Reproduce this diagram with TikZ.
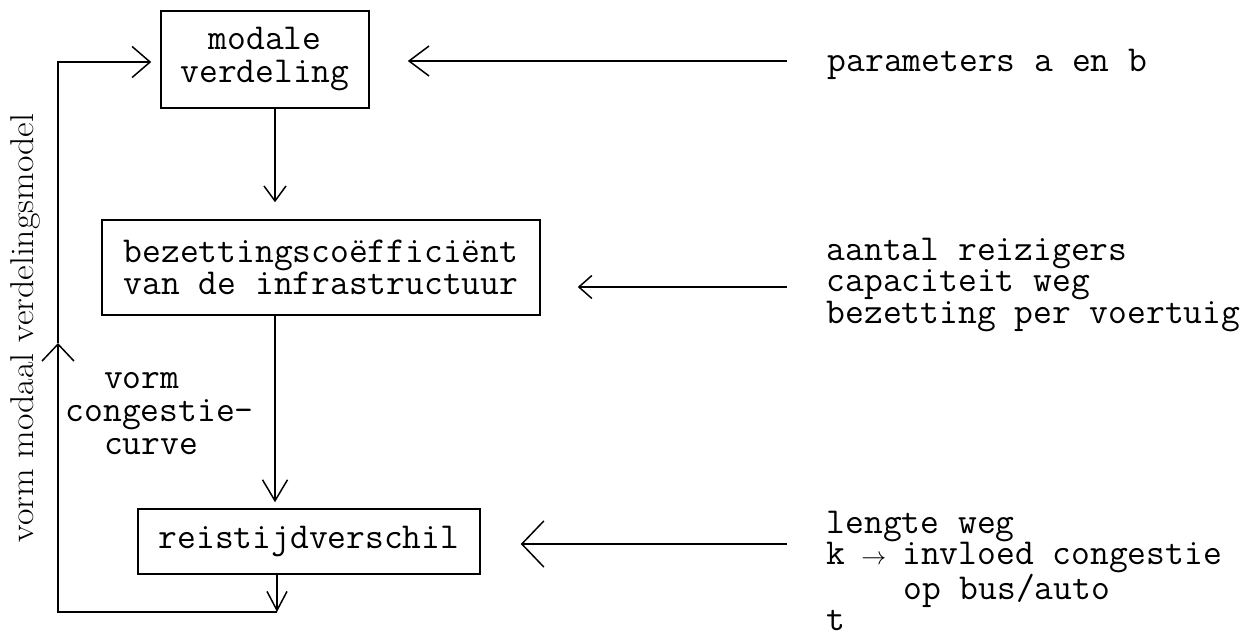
\documentclass[tikz,border=0pt]{standalone}
\usetikzlibrary{arrows.meta}
\begin{document}
\begin{tikzpicture}[x=1pt,y=-1pt,line width=1.5pt,
  box/.style={draw,rectangle,inner sep=0pt,align=center,font=\ttfamily\fontsize{36.5}{33}\selectfont},
  side/.style={inner sep=0pt,anchor=base west,align=left,font=\ttfamily\fontsize{36.5}{30}\selectfont},
  barb/.style 2 args={-{Straight Barb[length=#1,width=#2]}}]
\useasboundingbox (0,0) rectangle (1259,634);
% boxes
\node[box,minimum width=208pt,minimum height=97pt] (m) at (265,59.5) {modale\\verdeling};
\node[box,minimum width=438pt,minimum height=95pt,font=\ttfamily\fontsize{36.5}{28}\selectfont] (b) at (321,267.5) {bezettingscoëfficiënt\\van de infrastructuur};
\node[box,minimum width=342pt,minimum height=65pt] (r) at (309,541.5) {reistijdverschil};
% labels (base anchor = baseline of the last line)
\node[side,font=\ttfamily\fontsize{36.5}{33}\selectfont] (vc) at (65,454) {\hspace*{1.05em}vorm\\congestie-\\\hspace*{1.05em}curve};
\node[rotate=90,inner sep=0pt,anchor=base,font=\rmfamily\fontsize{33}{33}\selectfont] (vm) at (34,328) {\scalebox{1.085}[1]{vorm modaal verdelingsmodel}};
\node[side] (pa) at (827,71) {parameters a en b};
\node[side] (ar) at (826,323) {aantal reizigers\\capaciteit weg\\bezetting per voertuig};
\node[side,font=\ttfamily\fontsize{36.5}{31}\selectfont] (lw) at (826,630) {lengte weg\\k \makebox[0.525em]{$\scriptstyle\rightarrow$} invloed congestie\\\hspace*{2.1em}op bus/auto\\t};
% input arrows
\coordinate (a1) at (787,61);
\coordinate (a2) at (787,287);
\coordinate (a3) at (787,544);
\draw[barb={20pt}{30pt},shorten >=38pt] (a1) -- (a1 -| m.east);
\draw[barb={13pt}{23pt},shorten >=37pt] (a2) -- (a2 -| b.east);
\draw[barb={22pt}{46pt},shorten >=40pt] (a3) -- (a3 -| r.east);
% vertical flow
\coordinate (x1) at (275,0);
\draw[barb={15pt}{22pt},shorten >=17pt] (m.south -| x1) -- (b.north -| x1);
\draw[barb={21pt}{25pt},shorten >=6pt] (b.south -| x1) -- (r.north -| x1);
% feedback loop
\coordinate (fbB) at (277,612);
\coordinate (fbL) at (58,612);
\coordinate (fbM) at (58,343);
\coordinate (fbT) at (58,62);
\draw[barb={19pt}{20pt}] (r.south -| fbB) -- (fbB);
\draw[barb={17pt}{32pt}] (fbB) -- (fbL) -- (fbM);
\draw[barb={18pt}{31pt},shorten >=9pt] (fbM) -- (fbT) -- (fbT -| m.west);
\end{tikzpicture}
\end{document}
